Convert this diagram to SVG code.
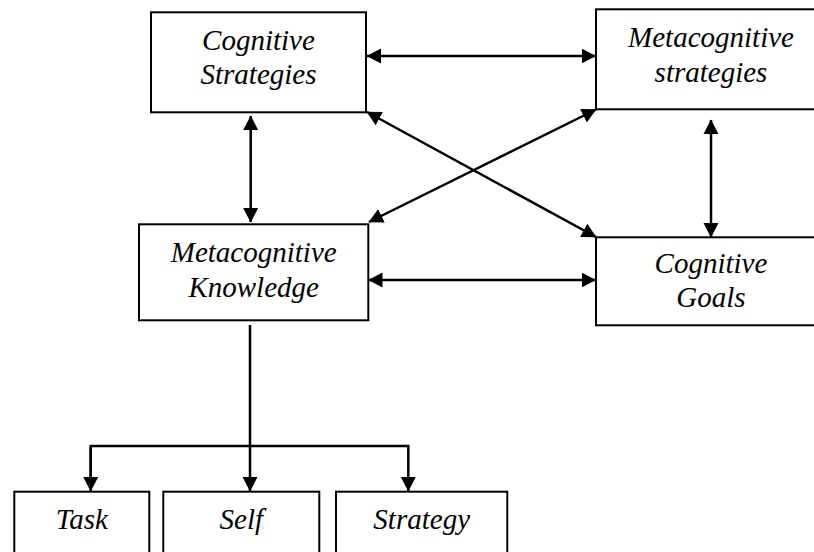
<svg xmlns="http://www.w3.org/2000/svg" width="814" height="552" viewBox="0 0 814 552">
<style>
.box{fill:#fff;stroke:#000;stroke-width:2}
.lbl{font-family:'Liberation Serif','Times New Roman',serif;font-style:italic;font-size:29px;fill:#000;text-anchor:middle}
.con{fill:none;stroke:#000;stroke-width:2.5}
</style>
<defs>
<marker id="ah" markerUnits="userSpaceOnUse" markerWidth="16" markerHeight="16" refX="14" refY="8" orient="auto-start-reverse" viewBox="0 0 16 16">
<path d="M0,0.5 L14.5,8 L0,15.5 z" fill="#000"/>
</marker>
</defs>
<rect width="814" height="552" fill="#fff"/>
<g id="cognitive-strategies">
<rect class="box" x="151" y="12.3" width="215" height="100"/>
<text class="lbl" x="258.5" y="50">Cognitive</text>
<text class="lbl" x="258.5" y="84">Strategies</text>
</g>
<g id="metacognitive-strategies">
<rect class="box" x="596" y="9.3" width="230" height="100"/>
<text class="lbl" x="711" y="47">Metacognitive</text>
<text class="lbl" x="711" y="82">strategies</text>
</g>
<g id="metacognitive-knowledge">
<rect class="box" x="139" y="224.3" width="229.3" height="96"/>
<text class="lbl" x="253.7" y="262">Metacognitive</text>
<text class="lbl" x="253.7" y="297">Knowledge</text>
</g>
<g id="cognitive-goals">
<rect class="box" x="596" y="237.3" width="230" height="88"/>
<text class="lbl" x="711" y="273">Cognitive</text>
<text class="lbl" x="711" y="307">Goals</text>
</g>
<g id="task">
<rect class="box" x="14.3" y="491.7" width="135" height="80"/>
<text class="lbl" x="81.8" y="529">Task</text>
</g>
<g id="self">
<rect class="box" x="163.3" y="491.7" width="156" height="80"/>
<text class="lbl" x="241.3" y="529">Self</text>
</g>
<g id="strategy">
<rect class="box" x="336" y="491.7" width="171.3" height="80"/>
<text class="lbl" x="421.7" y="529">Strategy</text>
</g>
<g id="connectors">
<line class="con" x1="367" y1="56" x2="595.5" y2="56" marker-start="url(#ah)" marker-end="url(#ah)"/>
<line class="con" x1="250.7" y1="116" x2="250.7" y2="222" marker-start="url(#ah)" marker-end="url(#ah)"/>
<line class="con" x1="367" y1="112" x2="596" y2="237" marker-start="url(#ah)" marker-end="url(#ah)"/>
<line class="con" x1="596" y1="109.5" x2="369" y2="222" marker-start="url(#ah)" marker-end="url(#ah)"/>
<line class="con" x1="711" y1="120" x2="711" y2="237" marker-start="url(#ah)" marker-end="url(#ah)"/>
<line class="con" x1="368.5" y1="280" x2="595.5" y2="280" marker-start="url(#ah)" marker-end="url(#ah)"/>
<line class="con" x1="250" y1="325" x2="250" y2="491" marker-end="url(#ah)"/>
<polyline class="con" points="90.7,487 90.7,446 408.3,446 408.3,491" marker-end="url(#ah)"/>
<line class="con" x1="90.7" y1="447" x2="90.7" y2="491" marker-end="url(#ah)"/>
</g>
</svg>
